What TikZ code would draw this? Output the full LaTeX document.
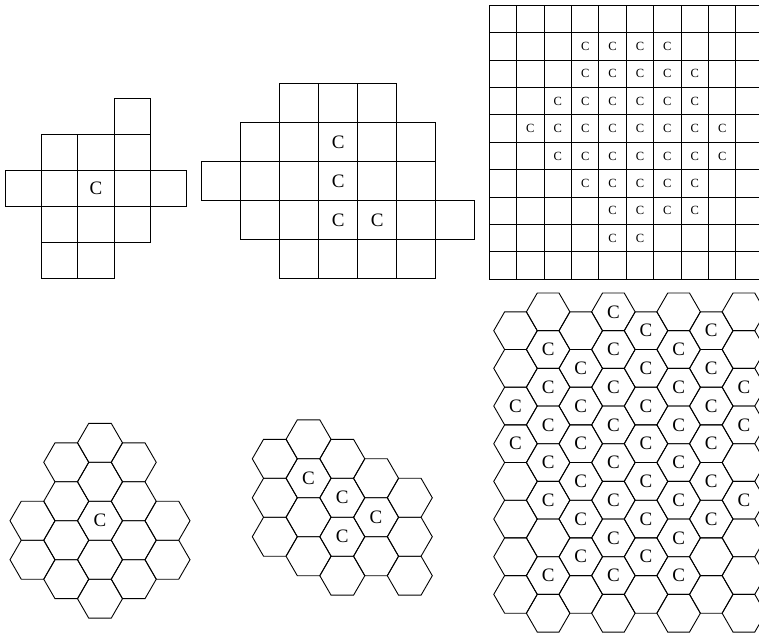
\documentclass[tikz,border=0pt]{standalone}
\usepackage{fontspec}
\setmainfont{Liberation Serif}
\begin{document}
\begin{tikzpicture}[x=1pt,y=-1pt,
  sq/.style={draw=black, line width=0.9pt},
  hx/.style={draw=black, line width=0.9pt, line join=miter},
  lab/.style={font=\fontsize{19}{19}\selectfont, inner sep=0pt},
  labsm/.style={font=\fontsize{12.5}{12.5}\selectfont, inner sep=0pt}]
\useasboundingbox (0,0) rectangle (759,635);
\clip (0,0) rectangle (759,635);

% ---------- Panel 1: small square pattern ----------
\def\aA{36.1}
\foreach \r/\cs in {0/{3}, 1/{1,2,3}, 2/{0,1,2,3,4}, 3/{1,2,3}, 4/{1,2}} {
  \foreach \c in \cs {
    \draw[sq] (5.7+\c*\aA, 98+\r*\aA) rectangle ++(\aA,\aA);
  }
}
\node[lab] (p1c) at (5.7+2.5*\aA, 98+2.5*\aA) {C};

% ---------- Panel 2: medium square pattern ----------
\def\aB{39}
\foreach \r/\cs in {0/{2,3,4}, 1/{1,2,3,4,5}, 2/{0,1,2,3,4,5}, 3/{1,2,3,4,5,6}, 4/{2,3,4,5}} {
  \foreach \c in \cs {
    \draw[sq] (201.7+\c*\aB, 83.3+\r*\aB) rectangle ++(\aB,\aB);
  }
}
\foreach \r/\c in {1/3, 2/3, 3/3, 3/4} {
  \node[lab] (p2c-\r-\c) at (201.7+\c*\aB+0.5*\aB, 83.3+\r*\aB+0.5*\aB) {C};
}

% ---------- Panel 3: large square grid ----------
\def\aC{27.4}
\foreach \r in {0,...,9} {
  \foreach \c in {0,...,9} {
    \draw[sq] (489.3+\c*\aC, 5.3+\r*\aC) rectangle ++(\aC,\aC);
  }
}
\foreach \r/\cs in {1/{3,4,5,6}, 2/{3,4,5,6,7}, 3/{2,3,4,5,6,7}, 4/{1,2,3,4,5,6,7,8},
                   5/{2,3,4,5,6,7,8}, 6/{3,4,5,6,7}, 7/{4,5,6,7}, 8/{4,5}} {
  \foreach \c in \cs {
    \node[labsm] (p3c-\r-\c) at (489.3+\c*\aC+0.5*\aC, 5.3+\r*\aC+0.5*\aC) {C};
  }
}

% ---------- Hexagon helper ----------
\newcommand\hexcell[3]{%
  \draw[hx, shift={(#1,#2)}] (0:#3) -- (60:#3) -- (120:#3) -- (180:#3) -- (240:#3) -- (300:#3) -- cycle;}

% ---------- Panel 4: small hex pattern ----------
\def\sD{22.5}
\foreach \c/\ks in {0/{4,6}, 1/{1,3,5,7}, 2/{0,2,4,6,8}, 3/{1,3,5,7}, 4/{4,6}} {
  \foreach \k in \ks {
    \hexcell{32.5+\c*33.75}{442.8+\k*19.485}{\sD}
  }
}
\node[lab] (p4c) at (32.5+2*33.75, 442.8+4*19.485) {C};

% ---------- Panel 5: medium hex pattern ----------
\foreach \c/\ks in {0/{1,3,5}, 1/{0,2,4,6}, 2/{1,3,5,7}, 3/{2,4,6}, 4/{3,5,7}} {
  \foreach \k in \ks {
    \hexcell{274.8+\c*33.75}{439.3+\k*19.485}{\sD}
  }
}
\foreach \c/\k in {1/2, 2/3, 2/5, 3/4} {
  \node[lab] (p5c-\c-\k) at (274.8+\c*33.75, 439.3+\k*19.485) {C};
}

% ---------- Panel 6: large hex grid ----------
\def\sF{21.75}
\foreach \c in {0,2,4,6} {
  \foreach \k in {1,3,...,15} {
    \hexcell{515.5+\c*32.625}{311.85+\k*18.835}{\sF}
  }
}
\foreach \c in {1,3,5,7} {
  \foreach \k in {0,2,...,16} {
    \hexcell{515.5+\c*32.625}{311.85+\k*18.835}{\sF}
  }
}
\foreach \c/\ks in {0/{5,7}, 1/{2,4,6,8,10,14}, 2/{3,5,7,9,11,13},
                    3/{0,2,4,6,8,10,12,14}, 4/{1,3,5,7,9,11,13},
                    5/{2,4,6,8,10,12,14}, 6/{1,3,5,7,9,11}, 7/{4,6,10}} {
  \foreach \k in \ks {
    \node[lab] (p6c-\c-\k) at (515.5+\c*32.625, 311.85+\k*18.835) {C};
  }
}
\end{tikzpicture}
\end{document}
